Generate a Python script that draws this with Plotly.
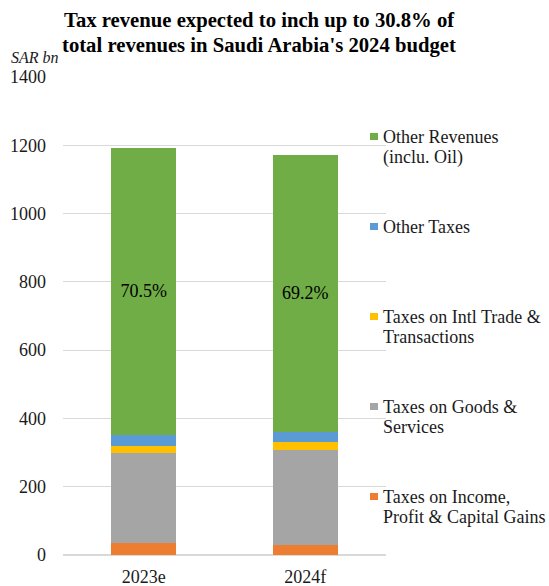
import plotly.graph_objects as go

categories = ["2023e", "2024f"]
series_lines = [
    ["Taxes on Income,", "Profit & Capital Gains"],
    ["Taxes on Goods &", "Services"],
    ["Taxes on Intl Trade &", "Transactions"],
    ["Other Taxes"],
    ["Other Revenues", "(inclu. Oil)"],
]
series_names = [" ".join(s) for s in series_lines]
income_tax = [35, 30]
goods_services = [265, 279]
intl_trade = [20, 22]
other_taxes = [32, 30]
other_revenues = [841, 811]
other_rev_labels = ["70.5%", "69.2%"]
colors = ["#ED7D31", "#A5A5A5", "#FFC000", "#5B9BD5", "#70AD47"]
y_ticks = [0, 200, 400, 600, 800, 1000, 1200, 1400]
title_lines = ["Tax revenue expected to inch up to 30.8% of",
               "total revenues in Saudi Arabia's 2024 budget"]

series_values = [income_tax, goods_services, intl_trade, other_taxes, other_revenues]

W, H = 549, 586
PL, PR, PT, PB = 63, 386, 77, 555   # plot area in pixels
FONT = "Liberation Serif"
TXT = "#1a1a1a"

def px2paper(px):
    return (px - PL) / (PR - PL)
def py2paper(py):
    return (PB - py) / (PB - PT)

fig = go.Figure()
for i, (name, vals) in enumerate(zip(series_names, series_values)):
    kw = {}
    if i == 4:
        kw = dict(text=other_rev_labels, textposition="inside", insidetextanchor="middle",
                  textfont=dict(family=FONT, size=18, color="black"))
    fig.add_trace(go.Bar(x=categories, y=vals, name=name, marker_color=colors[i],
                         marker_line_width=0, showlegend=False, **kw))

# custom legend (one annotation per line)
legend_centers = [137, 227, 317, 407, 497][::-1]
for lines, col, cy in zip(series_lines, colors, legend_centers):
    for j, line in enumerate(lines):
        fig.add_annotation(xref="paper", yref="paper", x=px2paper(381), y=py2paper(cy + 20 * j),
                           xanchor="left", yanchor="middle", align="left", showarrow=False,
                           text=line, font=dict(family=FONT, size=18, color=TXT))
    fig.add_shape(type="rect", xref="paper", yref="paper",
                  x0=px2paper(370), x1=px2paper(378), y0=py2paper(cy + 3), y1=py2paper(cy - 4),
                  fillcolor=col, line_width=0)

fig.add_annotation(xref="paper", yref="paper", x=px2paper(9), y=py2paper(57),
                   xanchor="left", yanchor="middle", showarrow=False,
                   text="<i>SAR bn</i>", font=dict(family=FONT, size=16, color=TXT))

for j, line in enumerate(title_lines):
    fig.add_annotation(xref="paper", yref="paper", x=px2paper(259), y=py2paper(20.5 + 25 * j),
                       xanchor="center", yanchor="middle", showarrow=False,
                       text="<b>" + line + "</b>", font=dict(family=FONT, size=20.7, color="black"))

fig.update_layout(
    width=W, height=H,
    margin=dict(l=PL, r=W - PR, t=PT, b=H - PB),
    barmode="stack", bargap=0.6,
    plot_bgcolor="white", paper_bgcolor="white",
    font=dict(family=FONT, size=18, color=TXT),
    hovermode=False,
)
fig.update_yaxes(range=[0, 1400], tickvals=y_ticks, showgrid=True, gridcolor="#D9D9D9",
                 gridwidth=1, zeroline=True, zerolinecolor="#D9D9D9", ticks="",
                 automargin=False, ticklabelstandoff=16,
                 tickfont=dict(family=FONT, size=18, color=TXT))
fig.update_xaxes(ticks="", showline=False, ticklabelstandoff=9, automargin=False,
                 tickfont=dict(family=FONT, size=18, color=TXT))

fig.write_html("out.html", config={"displayModeBar": False},
               post_script="document.body.style.margin='0';document.body.style.overflow='hidden';")
